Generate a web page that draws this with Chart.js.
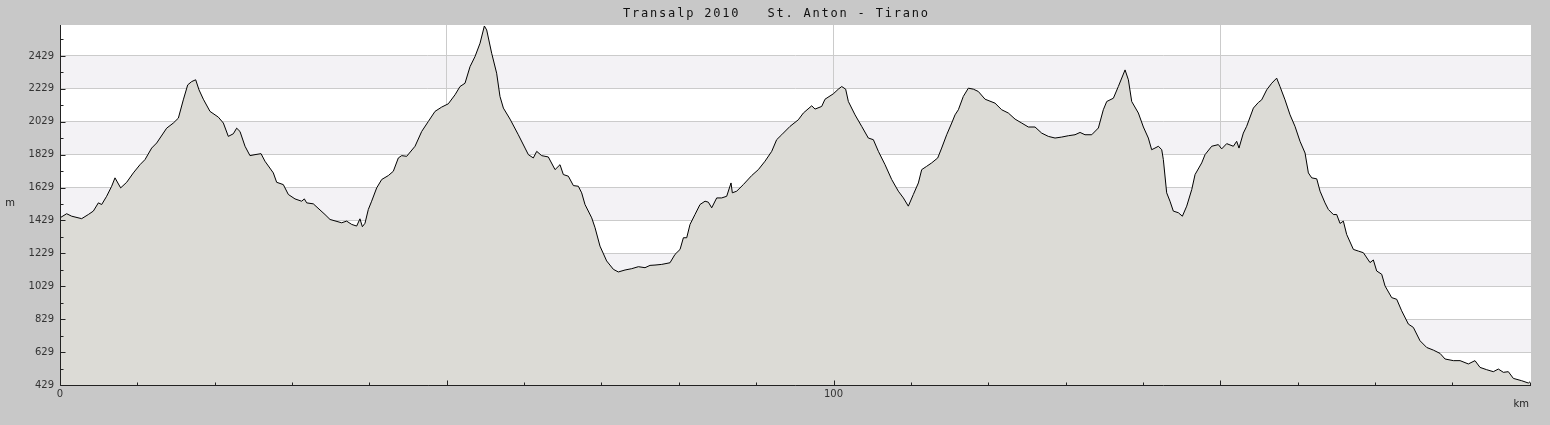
<!DOCTYPE html>
<html><head><meta charset="utf-8">
<script src="https://cdn.jsdelivr.net/npm/chart.js@4"></script>
<style>html,body{margin:0;padding:0;background:#c8c8c8;overflow:hidden}</style>
</head><body>
<canvas id="c" width="1550" height="425"></canvas>
<script>
const titleText = 'Transalp 2010   St. Anton - Tirano';
const xAxisLabel = 'km';
const yAxisLabel = 'm';

const distanceKm = [
0,0.86,1.51,2.80,3.66,4.31,4.96,5.39,6.03,6.68,7.11,7.84,8.62,9.48,10.34,10.99,11.85,12.50,13.79,14.65,
15.30,15.94,16.51,17.02,17.54,17.97,18.53,19.39,20.47,21.12,21.76,22.41,22.84,23.27,23.92,24.56,25.21,25.99,26.50,27.58,
28.01,28.87,29.52,30.38,31.24,31.59,31.89,32.75,34.26,34.91,36.41,37.06,37.71,38.35,38.78,39.09,39.43,39.86,40.29,40.94,
41.59,42.45,43.09,43.74,44.17,44.82,45.90,46.76,47.62,48.48,49.34,50.20,51.07,51.71,52.36,53.01,53.65,54.30,54.86,55.16,
55.81,56.45,56.88,57.32,58.18,59.25,60.12,60.55,61.19,61.63,62.27,63.13,64.00,64.64,65.07,65.72,66.37,67.01,67.44,67.87,
68.74,69.17,69.81,70.67,71.54,72.18,73.05,73.91,74.77,75.63,76.28,76.92,77.79,78.86,79.51,80.16,80.59,81.02,81.45,82.09,
82.74,83.39,83.82,84.25,84.90,85.54,86.19,86.75,86.92,87.48,88.34,89.42,90.28,91.14,92.01,92.65,93.30,94.38,95.45,96.10,
97.18,97.61,98.47,98.90,99.98,100.62,101.06,101.57,101.92,102.78,103.64,104.50,105.15,105.80,106.66,107.52,108.38,109.03,109.67,110.32,
110.97,111.40,112.04,112.69,113.47,113.98,114.63,115.28,115.71,116.14,116.78,117.43,118.08,118.72,119.59,120.88,121.74,122.60,123.47,124.33,
125.19,126.05,126.91,127.77,128.64,129.50,130.36,131.22,131.87,132.51,133.38,134.24,134.88,135.32,136.18,136.82,137.69,138.12,138.55,139.41,
140.06,140.70,141.13,141.56,142.00,142.43,142.64,143.07,143.50,143.93,144.58,145.10,145.66,146.31,146.74,147.60,148.03,148.89,149.75,150.18,
150.83,151.69,152.12,152.42,152.98,153.41,154.28,154.92,155.35,156.00,156.65,157.29,157.72,158.37,159.02,159.66,160.31,160.96,161.39,161.82,
162.47,162.90,163.54,163.97,164.62,165.05,165.48,165.91,166.34,167.21,167.85,168.50,169.36,169.79,170.22,170.87,171.30,172.16,172.81,173.45,
174.32,174.96,175.82,176.69,177.55,178.41,179.06,180.14,181.00,182.07,182.93,183.58,184.44,185.30,185.95,186.60,187.24,187.89,188.97,189.83,
190.05
];
const elevationM = [
1445,1470,1455,1440,1465,1486,1536,1526,1576,1637,1688,1627,1661,1718,1768,1799,1869,1900,1990,2021,
2051,2162,2253,2273,2284,2223,2166,2092,2057,2021,1940,1956,1990,1970,1880,1823,1829,1835,1789,1718,
1661,1647,1587,1560,1546,1560,1536,1530,1465,1435,1415,1425,1405,1395,1439,1391,1412,1496,1546,1627,
1678,1702,1728,1809,1823,1819,1880,1970,2031,2092,2118,2138,2193,2243,2263,2364,2425,2506,2611,2587,
2445,2324,2183,2112,2045,1950,1869,1829,1809,1849,1823,1815,1738,1768,1708,1698,1641,1637,1597,1526,
1445,1385,1273,1183,1132,1116,1128,1136,1148,1142,1156,1158,1162,1172,1223,1253,1324,1324,1405,1465,
1526,1546,1540,1506,1566,1566,1576,1657,1597,1607,1647,1702,1738,1789,1849,1920,1950,2001,2041,2082,
2126,2106,2122,2166,2199,2227,2243,2227,2152,2071,2001,1930,1920,1849,1768,1678,1607,1566,1516,1587,
1657,1738,1758,1779,1809,1869,1950,2021,2071,2102,2183,2233,2227,2213,2166,2142,2102,2082,2045,2021,
1997,1997,1960,1940,1930,1936,1944,1950,1964,1950,1950,1991,2102,2152,2172,2243,2344,2284,2152,2082,
1997,1930,1859,1869,1880,1859,1799,1597,1546,1486,1476,1455,1516,1617,1708,1779,1829,1880,1890,1864,
1896,1880,1910,1869,1960,2001,2112,2146,2162,2223,2263,2294,2243,2162,2071,2001,1910,1839,1718,1688,
1682,1607,1536,1496,1465,1465,1411,1425,1344,1253,1243,1233,1173,1189,1122,1102,1031,960,950,880,
799,779,698,657,641,621,587,577,577,557,577,536,522,510,526,506,510,469,455,441,
449
];

const yTickValues = [429,629,829,1029,1229,1429,1629,1829,2029,2229,2429];
const yMinorValues = [529,729,929,1129,1329,1529,1729,1929,2129,2329,2529];
const xTickValues = [0,50,100,150];
const xLabelValues = [0,100];
const xMinorValues = [10,20,30,40,60,70,80,90,110,120,130,140,160,170,180,190];
const yMin = 429, yMax = 2617, xMin = 0, xMax = 190.17;

const labelFont = {family:'"DejaVu Sans", sans-serif', size:10};
const gridColor = '#cbcbcb';
const bandColor = '#f3f2f5';
const axisColor = '#222222';

const decorPlugin = {
  id:'decor',
  beforeDraw(chart){
    const {ctx, chartArea:a, scales:{y}} = chart;
    ctx.save();
    ctx.fillStyle = '#ffffff';
    ctx.fillRect(a.left, a.top, a.right-a.left, a.bottom-a.top);
    ctx.fillStyle = bandColor;
    for (let i=1;i<yTickValues.length-1;i+=2){
      const y1 = y.getPixelForValue(yTickValues[i+1]);
      const y0 = y.getPixelForValue(yTickValues[i]);
      ctx.fillRect(a.left, y1, a.right-a.left, y0-y1);
    }
    // title
    ctx.fillStyle = '#111';
    ctx.font = '12px "DejaVu Sans Mono", monospace';
    ctx.textBaseline = 'middle';
    ctx.textAlign = 'left';
    const ls = 1.8;
    ctx.letterSpacing = ls + 'px';
    const w = ctx.measureText(titleText).width;
    ctx.fillText(titleText, 775.5 - (w - ls)/2, 14);
    ctx.letterSpacing = '0px';
    ctx.restore();
  },
  afterDatasetsDraw(chart){
    const {ctx, chartArea:a, scales:{x,y}} = chart;
    ctx.save();
    ctx.strokeStyle = axisColor;
    ctx.lineWidth = 1;
    ctx.beginPath();
    const L = Math.round(a.left)+0.5, B = Math.round(a.bottom)+0.5;
    ctx.moveTo(L, a.top); ctx.lineTo(L, B); ctx.lineTo(a.right, B);
    yTickValues.forEach(v=>{const p=Math.round(y.getPixelForValue(v))+0.5; ctx.moveTo(L,p); ctx.lineTo(L+5,p);});
    yMinorValues.forEach(v=>{const p=Math.round(y.getPixelForValue(v))+0.5; ctx.moveTo(L,p); ctx.lineTo(L+3,p);});
    xTickValues.forEach(v=>{const p=Math.round(x.getPixelForValue(v))+0.5; ctx.moveTo(p,B); ctx.lineTo(p,B-5);});
    xMinorValues.forEach(v=>{const p=Math.round(x.getPixelForValue(v))+0.5; ctx.moveTo(p,B); ctx.lineTo(p,B-3);});
    ctx.stroke();
    ctx.fillStyle = '#222';
    ctx.font = '10px "DejaVu Sans", sans-serif';
    ctx.textBaseline = 'middle';
    ctx.textAlign = 'right';
    ctx.fillText(xAxisLabel, 1529, 404);
    ctx.textAlign = 'center';
    ctx.fillText(yAxisLabel, 10, 203);
    ctx.restore();
  }
};

new Chart(document.getElementById('c'), {
  type:'line',
  data:{
    datasets:[{
      data: distanceKm.map((k,i)=>({x:k, y:elevationM[i]})),
      borderColor:'#000000',
      borderWidth:1,
      backgroundColor:'#dcdbd6',
      fill:'start',
      pointRadius:0,
      tension:0
    }]
  },
  options:{
    responsive:false,
    animation:false,
    devicePixelRatio:1,
    layout:{padding:{top:25,right:19,left:0,bottom:0}},
    plugins:{legend:{display:false},tooltip:{enabled:false},title:{display:false}},
    scales:{
      x:{
        type:'linear', min:xMin, max:xMax,
        afterBuildTicks(s){ s.ticks = xTickValues.map(v=>({value:v})); },
        afterFit(s){ s.height = 40; },
        ticks:{autoSkip:false, maxRotation:0, font:labelFont, color:'#333', padding:3,
          callback:v=> xLabelValues.includes(v) ? String(v) : ''},
        grid:{color:(c)=> c.tick && c.tick.value===0 ? 'rgba(0,0,0,0)' : gridColor, drawTicks:false, lineWidth:1},
        border:{display:false}
      },
      y:{
        type:'linear', min:yMin, max:yMax,
        afterBuildTicks(s){ s.ticks = yTickValues.map(v=>({value:v})); },
        afterFit(s){ s.width = 60; },
        ticks:{autoSkip:false, font:labelFont, color:'#333', padding:6,
          callback:v=> String(v)},
        grid:{color:(c)=> c.tick && c.tick.value===429 ? 'rgba(0,0,0,0)' : gridColor, drawTicks:false, lineWidth:1},
        border:{display:false}
      }
    }
  },
  plugins:[decorPlugin]
});
</script>
</body></html>
